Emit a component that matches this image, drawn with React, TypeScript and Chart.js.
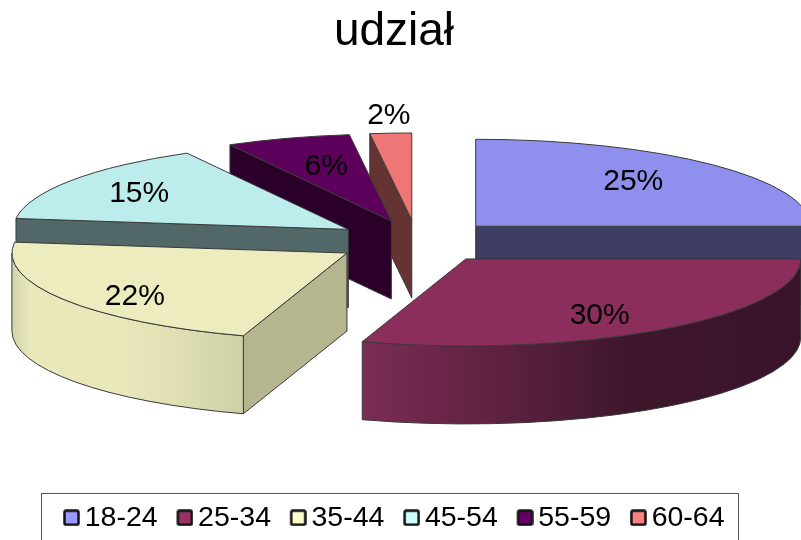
import React, { useEffect, useRef } from "react";
import { Chart, registerables } from "chart.js";

Chart.register(...registerables);

const title = "udział";
const categories = ["18-24", "25-34", "35-44", "45-54", "55-59", "60-64"];
const shares = [25, 30, 22, 15, 6, 2];
const legendColors = ["#9999ff", "#993366", "#ffffcc", "#ccffff", "#660066", "#ff8080"];
const topColors = ["#8f8fee", "#8b2e5c", "#ececbe", "#bcecec", "#5c005c", "#ee7676"];
const wallColors = ["#3d3d66", "#3d1428", "#b5b590", "#526767", "#2a002a", "#663333"];
const rimStops: (([number, string][]) | null)[] = [
  null,
  [[0, "#7a2c55"], [0.3, "#5f2240"], [0.6, "#3f172d"], [1, "#38132a"]],
  [[0, "#d3d3aa"], [0.08, "#e8e8bb"], [0.45, "#e8e8bb"], [0.7, "#e0e0b4"], [1, "#cfcfa7"]],
  null,
  null,
  null,
];
const drawOrder = [0, 5, 4, 3, 2, 1];
const labelFactors = [[0.665, 0.73], [0.68, 0.8], [0.75, 0.94], [0.755, 0.72], [0.63, 0.66], [1.09, 1.2]];

const FONT = "'Liberation Sans', Arial, sans-serif";
const VIEW = { cx: 417, cy: 241.5, rx: 335, ry: 87, depth: 78, explode: 83 };
const OUTLINE = "#3a3a3a";

function marker(color: string) {
  const c = document.createElement("canvas");
  c.width = 26;
  c.height = 17;
  const g = c.getContext("2d")!;
  g.fillStyle = color;
  g.strokeStyle = "#111";
  g.lineWidth = 2.5;
  g.beginPath();
  g.roundRect(10.5, 1.5, 14, 14, 1.5);
  g.fill();
  g.stroke();
  return c;
}

const pseudo3d = {
  id: "pseudo3d",
  beforeDatasetDraw() {
    return false;
  },
  afterDatasetsDraw(chart: any) {
    const ctx: CanvasRenderingContext2D = chart.ctx;
    const arcs = chart.getDatasetMeta(0).data;
    const { cx, cy, rx, ry, depth, explode } = VIEW;
    ctx.save();
    ctx.lineWidth = 1;
    ctx.strokeStyle = OUTLINE;
    ctx.lineJoin = "round";
    for (const i of drawOrder) {
      const arc = arcs[i];
      const a0 = arc.startAngle;
      const a1 = arc.endAngle;
      const mid = (a0 + a1) / 2;
      const tx = cx + explode * Math.cos(mid);
      const ty = cy + explode * (ry / rx) * Math.sin(mid);
      const sx = tx + rx * Math.cos(a0);
      const sy = ty + ry * Math.sin(a0);
      const ex = tx + rx * Math.cos(a1);
      const ey = ty + ry * Math.sin(a1);

      const wall = (px: number, py: number) => {
        ctx.beginPath();
        ctx.moveTo(tx, ty);
        ctx.lineTo(px, py);
        ctx.lineTo(px, py + depth);
        ctx.lineTo(tx, ty + depth);
        ctx.closePath();
        ctx.fillStyle = wallColors[i];
        ctx.fill();
        ctx.stroke();
      };
      if (Math.cos(a0) < -1e-6) wall(sx, sy);
      if (Math.cos(a1) > 1e-6) wall(ex, ey);

      const r0 = Math.max(a0, 0);
      const r1 = Math.min(a1, Math.PI);
      if (r1 > r0) {
        const right = tx + rx * Math.cos(r0);
        const left = tx + rx * Math.cos(r1);
        const grad = ctx.createLinearGradient(left, 0, right, 0);
        for (const [o, col] of rimStops[i] ?? [[0, wallColors[i]], [1, wallColors[i]]] as [number, string][]) {
          grad.addColorStop(o, col);
        }
        ctx.beginPath();
        ctx.ellipse(tx, ty, rx, ry, 0, r0, r1, false);
        ctx.ellipse(tx, ty + depth, rx, ry, 0, r1, r0, true);
        ctx.closePath();
        ctx.fillStyle = grad;
        ctx.fill();
        ctx.stroke();
      }

      // top face: the library's own arc element, projected onto the tilted plane
      ctx.save();
      ctx.translate(tx, ty);
      ctx.scale(rx / arc.outerRadius, ry / arc.outerRadius);
      ctx.translate(-arc.x, -arc.y);
      arc.draw(ctx);
      ctx.restore();

      ctx.beginPath();
      ctx.moveTo(tx, ty);
      ctx.lineTo(sx, sy);
      ctx.ellipse(tx, ty, rx, ry, 0, a0, a1, false);
      ctx.closePath();
      ctx.stroke();
    }

    ctx.fillStyle = "#000";
    ctx.font = `30px ${FONT}`;
    ctx.textAlign = "center";
    ctx.textBaseline = "middle";
    for (const i of drawOrder) {
      const arc = arcs[i];
      const mid = (arc.startAngle + arc.endAngle) / 2;
      const tx = cx + explode * Math.cos(mid);
      const ty = cy + explode * (ry / rx) * Math.sin(mid);
      const [fx, fy] = labelFactors[i];
      ctx.fillText(`${shares[i]}%`, tx + fx * rx * Math.cos(mid), ty + fy * ry * Math.sin(mid));
    }
    ctx.restore();
  },
  afterDraw(chart: any) {
    const boxes = chart.legend?.legendHitBoxes;
    if (!boxes?.length) return;
    const ctx: CanvasRenderingContext2D = chart.ctx;
    const first = boxes[0];
    const last = boxes[boxes.length - 1];
    ctx.save();
    ctx.strokeStyle = "#555";
    ctx.lineWidth = 1;
    const left = Math.round(first.left - 22) + 0.5;
    const right = Math.round(last.left + last.width + 13) + 0.5;
    const top = Math.round(first.top - 11) + 0.5;
    ctx.strokeRect(left, top, right - left, 80);
    ctx.restore();
  },
};

export default function App() {
  const ref = useRef<HTMLCanvasElement>(null);
  useEffect(() => {
    const markers = legendColors.map(marker);
    const chart = new Chart(ref.current!, {
      type: "pie",
      data: {
        labels: categories,
        datasets: [{ data: shares, backgroundColor: topColors, borderWidth: 0 }],
      },
      options: {
        responsive: false,
        animation: false,
        layout: { padding: { left: 0, right: 13, top: 5, bottom: -2 } },
        plugins: {
          tooltip: { enabled: false },
          title: {
            display: true,
            text: title,
            color: "#000",
            font: { family: FONT, size: 46, weight: "normal" },
            padding: { top: 0, bottom: 10 },
          },
          legend: {
            position: "bottom",
            labels: {
              color: "#000",
              font: { family: FONT, size: 28.5 },
              usePointStyle: true,
              pointStyleWidth: 7,
              padding: 19.25,
              generateLabels: () =>
                categories.map((text, index) => ({
                  text,
                  index,
                  fillStyle: legendColors[index],
                  strokeStyle: "#111",
                  lineWidth: 0,
                  pointStyle: markers[index],
                  hidden: false,
                })),
            },
          },
        },
      },
      plugins: [pseudo3d],
    } as any);
    return () => chart.destroy();
  }, []);
  return (
    <div style={{ position: "absolute", left: 0, top: 0, width: 801, height: 540, overflow: "hidden", background: "#fff" }}>
      <canvas ref={ref} width={801} height={540} style={{ display: "block" }} />
    </div>
  );
}
